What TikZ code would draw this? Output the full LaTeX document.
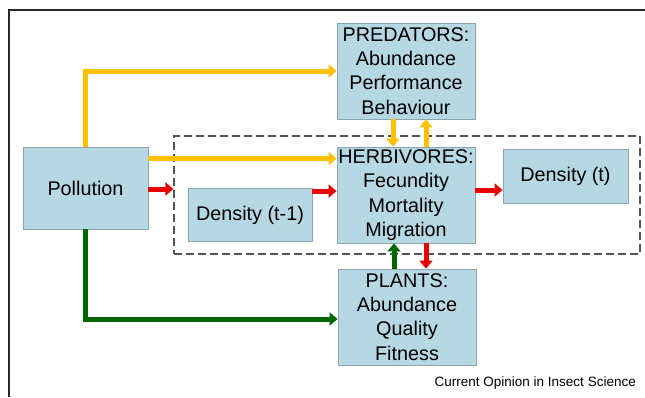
\documentclass[tikz,border=0pt]{standalone}
\usepackage{fontspec}
\setmainfont{Liberation Sans}
\usetikzlibrary{arrows.meta,calc}
\definecolor{boxfill}{RGB}{182,216,226}
\definecolor{boxline}{RGB}{140,165,175}
\definecolor{yel}{RGB}{255,192,0}
\definecolor{redc}{RGB}{230,0,0}
\definecolor{grn}{RGB}{0,102,0}
\definecolor{frame}{RGB}{40,40,40}
\begin{document}
\begin{tikzpicture}[x=1pt,y=-1pt,
  box/.style={draw=boxline,line width=0.8pt,fill=boxfill,inner sep=0pt,align=center,
    font=\fontsize{19.8}{24.3}\selectfont},
  conn/.style={line width=5pt,-{Triangle[length=8pt,width=13pt]}},
  ya/.style={conn,draw=yel},
  ra/.style={conn,draw=redc},
  ga/.style={conn,draw=grn},
  grpbox/.style={draw=frame!80,line width=1.2pt,dash pattern=on 8pt off 4pt,inner sep=0pt}]
\useasboundingbox (0,0) rectangle (645,397);
\draw[frame,line width=1.5pt] (9,397) -- (9,10) -- (645,10);
\node[grpbox,minimum width=466pt,minimum height=118pt] (grp) at (407,195) {};
\node[box,minimum width=138pt,minimum height=96pt] (pred) at (406,71) {PREDATORS:\\Abundance\\Performance\\Behaviour};
\node[box,minimum width=138pt,minimum height=96pt] (herb) at (406,195) {HERBIVORES:\\Fecundity\\Mortality\\Migration};
\node[box,minimum width=138pt,minimum height=96pt] (plant) at (407,317) {PLANTS:\\Abundance\\Quality\\Fitness};
\node[box,minimum width=125pt,minimum height=82pt] (pol) at (85.5,188) {Pollution};
\node[box,minimum width=124pt,minimum height=53pt] (d1) at (250,215) {Density (t-1)};
\node[box,minimum width=125pt,minimum height=54pt] (d2) at (565.5,176) {Density (t)};
\node[anchor=base east,inner sep=0pt,font=\fontsize{13.5}{15}\selectfont] (src) at (636,386) {Current Opinion in Insect Science};
% yellow
\draw[ya] (pol.north) |- (pred.west);
\draw[ya] ([yshift=-12pt]pol.north east) -- ([yshift=-12pt]pol.north east -| herb.west);
\draw[ya] ([xshift=-13pt]pred.south) -- ([xshift=-13pt]pred.south |- herb.north);
\draw[ya] ([xshift=20pt]herb.north) -- ([xshift=20pt]herb.north |- pred.south);
% red
\draw[ra] ([yshift=-1pt]pol.east) -- ([yshift=-1pt]pol.east -| grp.west);
\draw[ra] ([yshift=-3pt]d1.north east) -- ([yshift=-3pt]d1.north east -| herb.west);
\draw[ra] ([yshift=5pt]herb.east) -- ([yshift=5pt]herb.east -| d2.west);
\draw[ra] ([xshift=20pt]herb.south) -- ([xshift=20pt]herb.south |- plant.north);
% green
\draw[ga] ([xshift=-13pt]plant.north) -- ([xshift=-13pt]plant.north |- herb.south);
\draw[ga] (pol.south) |- ([yshift=-2pt]plant.west);
\end{tikzpicture}
\end{document}
